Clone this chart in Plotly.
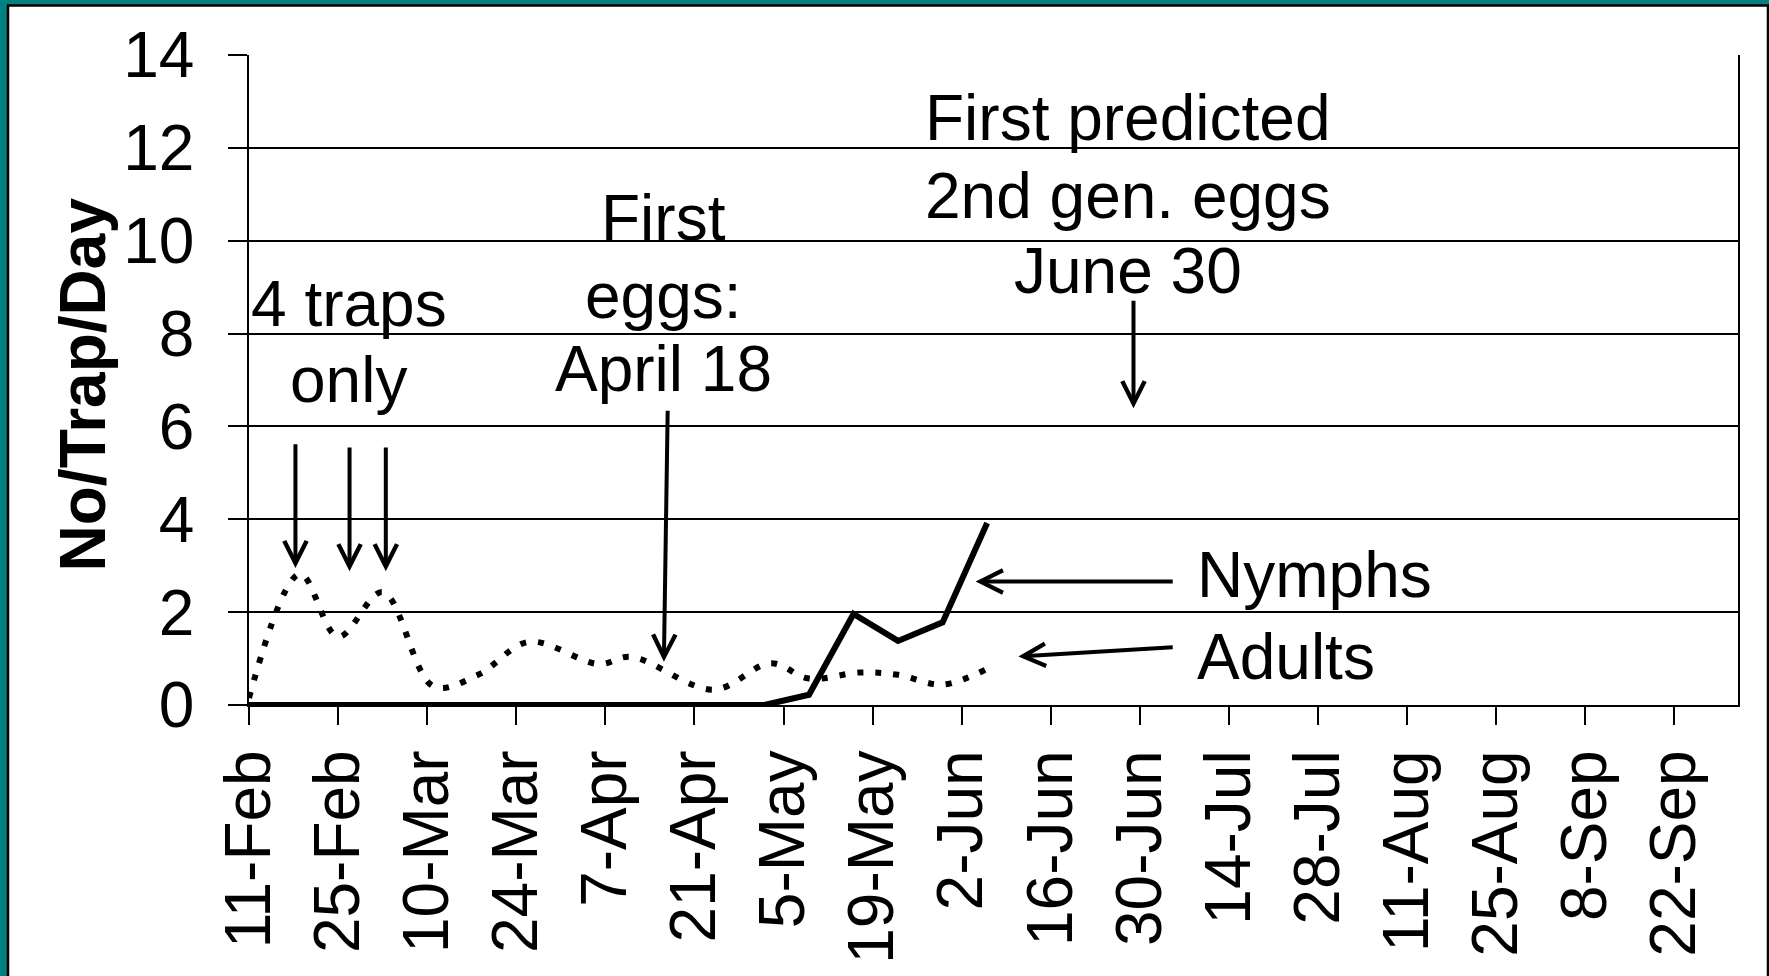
import plotly.graph_objects as go
import pandas as pd

# ---------------- data ----------------
adult_dates = ["2008-02-11", "2008-02-19", "2008-02-25", "2008-03-03", "2008-03-11",
               "2008-03-18", "2008-03-26", "2008-04-06", "2008-04-11", "2008-04-24",
               "2008-05-03", "2008-05-09", "2008-05-17", "2008-05-23", "2008-05-30",
               "2008-06-06"]
adult_values = [0.15, 2.82, 1.47, 2.43, 0.40, 0.65, 1.36, 0.88, 1.04, 0.33,
                0.90, 0.57, 0.70, 0.65, 0.44, 0.78]

nymph_dates = ["2008-02-11", "2008-05-02", "2008-05-09", "2008-05-16",
               "2008-05-23", "2008-05-30", "2008-06-06"]
nymph_values = [0, 0, 0.22, 1.96, 1.38, 1.78, 3.92]

tick_dates = ["2008-02-11", "2008-02-25", "2008-03-10", "2008-03-24", "2008-04-07",
              "2008-04-21", "2008-05-05", "2008-05-19", "2008-06-02", "2008-06-16",
              "2008-06-30", "2008-07-14", "2008-07-28", "2008-08-11", "2008-08-25",
              "2008-09-08", "2008-09-22"]
tick_labels = ["11-Feb", "25-Feb", "10-Mar", "24-Mar", "7-Apr", "21-Apr", "5-May",
               "19-May", "2-Jun", "16-Jun", "30-Jun", "14-Jul", "28-Jul", "11-Aug",
               "25-Aug", "8-Sep", "22-Sep"]
y_ticks = [0, 2, 4, 6, 8, 10, 12, 14]

BASE = pd.Timestamp("2008-02-11")


def day(n):
    return (BASE + pd.Timedelta(hours=n * 24)).strftime("%Y-%m-%d %H:%M")


FONT = "Liberation Sans, Arial, sans-serif"
FS = 64

W, H = 1769, 976
ML, MR, MT, MB = 249, 31, 55, 264
PW, PH = W - ML - MR, H - MT - MB


def px_x(X):
    return (X - ML) / PW


def px_y(Y):
    return (H - MB - Y) / PH


fig = go.Figure()

fig.add_trace(go.Scatter(
    x=adult_dates, y=adult_values, mode="lines", name="Adults",
    line=dict(color="black", width=6, dash="6px,12px", shape="spline", smoothing=1.0),
    showlegend=False,
))
fig.add_trace(go.Scatter(
    x=nymph_dates, y=nymph_values, mode="lines", name="Nymphs",
    line=dict(color="black", width=6),
    showlegend=False,
))

annotations = []

# y-axis title
annotations.append(dict(
    text="<b>No/Trap/Day</b>", xref="paper", yref="paper",
    x=px_x(83), y=px_y(388), xanchor="center", yanchor="middle",
    textangle=-90, showarrow=False, font=dict(family=FONT, size=FS, color="black"),
))

# text labels (per line)
text_items = [
    ("4 traps", 15.7, 8.63, "center"),
    ("only", 15.7, 7.00, "center"),
    ("First", 65.2, 10.48, "center"),
    ("eggs:", 65.2, 8.80, "center"),
    ("April 18", 65.2, 7.24, "center"),
    ("First predicted", 138.1, 12.65, "center"),
    ("2nd gen. eggs", 138.1, 10.97, "center"),
    ("June 30", 138.1, 9.35, "center"),
    ("Nymphs", 148.7, 2.79, "left"),
    ("Adults", 148.7, 1.04, "left"),
]
for t, dx, yy, anc in text_items:
    annotations.append(dict(
        text=t, x=day(dx), y=yy, xref="x", yref="y", xanchor=anc, yanchor="middle",
        showarrow=False, font=dict(family=FONT, size=FS, color="black"),
    ))

# arrows: (tail_day, tail_y, tip_day, tip_y)
arrows = [
    (7.3, 5.65, 7.3, 2.95),
    (15.8, 5.58, 15.8, 2.88),
    (21.5, 5.58, 21.5, 2.88),
    (65.8, 6.37, 65.2, 0.93),
    (139.0, 8.74, 139.0, 6.39),
    (145.4, 2.66, 114.2, 2.66),
    (145.4, 1.245, 120.9, 1.045),
]
for tx, ty, hx, hy in arrows:
    annotations.append(dict(
        text="", x=day(hx), y=hy, ax=day(tx), ay=ty, xref="x", yref="y",
        axref="x", ayref="y", showarrow=True, arrowhead=5, arrowsize=1.1,
        arrowwidth=4, arrowcolor="black", standoff=0, startstandoff=0,
    ))

shapes = [
    # white slide panel with black border (left/top/right)
    dict(type="rect", xref="paper", yref="paper", layer="below",
         x0=px_x(8), x1=px_x(1768), y0=px_y(1010), y1=px_y(5),
         fillcolor="white", line=dict(color="black", width=2.5)),
]

fig.update_layout(
    width=W, height=H,
    margin=dict(l=ML, r=MR, t=MT, b=MB, pad=0),
    paper_bgcolor="#008080",
    plot_bgcolor="rgba(0,0,0,0)",
    font=dict(family=FONT, size=FS, color="black"),
    showlegend=False,
    annotations=annotations,
    shapes=shapes,
)

fig.update_xaxes(
    type="date", range=["2008-02-11", "2008-10-02"],
    tickmode="array", tickvals=tick_dates, ticktext=tick_labels, tickangle=-90,
    ticks="outside", ticklen=18, tickwidth=1.5, tickcolor="black",
    showline=True, linecolor="black", linewidth=1.5, mirror=False,
    showgrid=False, zeroline=False,
    tickfont=dict(family=FONT, size=FS, color="black"),
)
fig.update_yaxes(
    range=[0, 14], tickmode="array", tickvals=y_ticks, ticktext=[str(v) for v in y_ticks],
    ticks="outside", ticklen=19, tickwidth=1.5, tickcolor="black",
    showline=True, linecolor="black", linewidth=1.5, mirror=True,
    showgrid=True, gridcolor="black", gridwidth=1.5, zeroline=False,
    ticklabelstandoff=21,
    tickfont=dict(family=FONT, size=FS, color="black"),
)

fig.write_html("out.html", config={"displayModeBar": False},
               post_script="document.body.style.margin='0';")
